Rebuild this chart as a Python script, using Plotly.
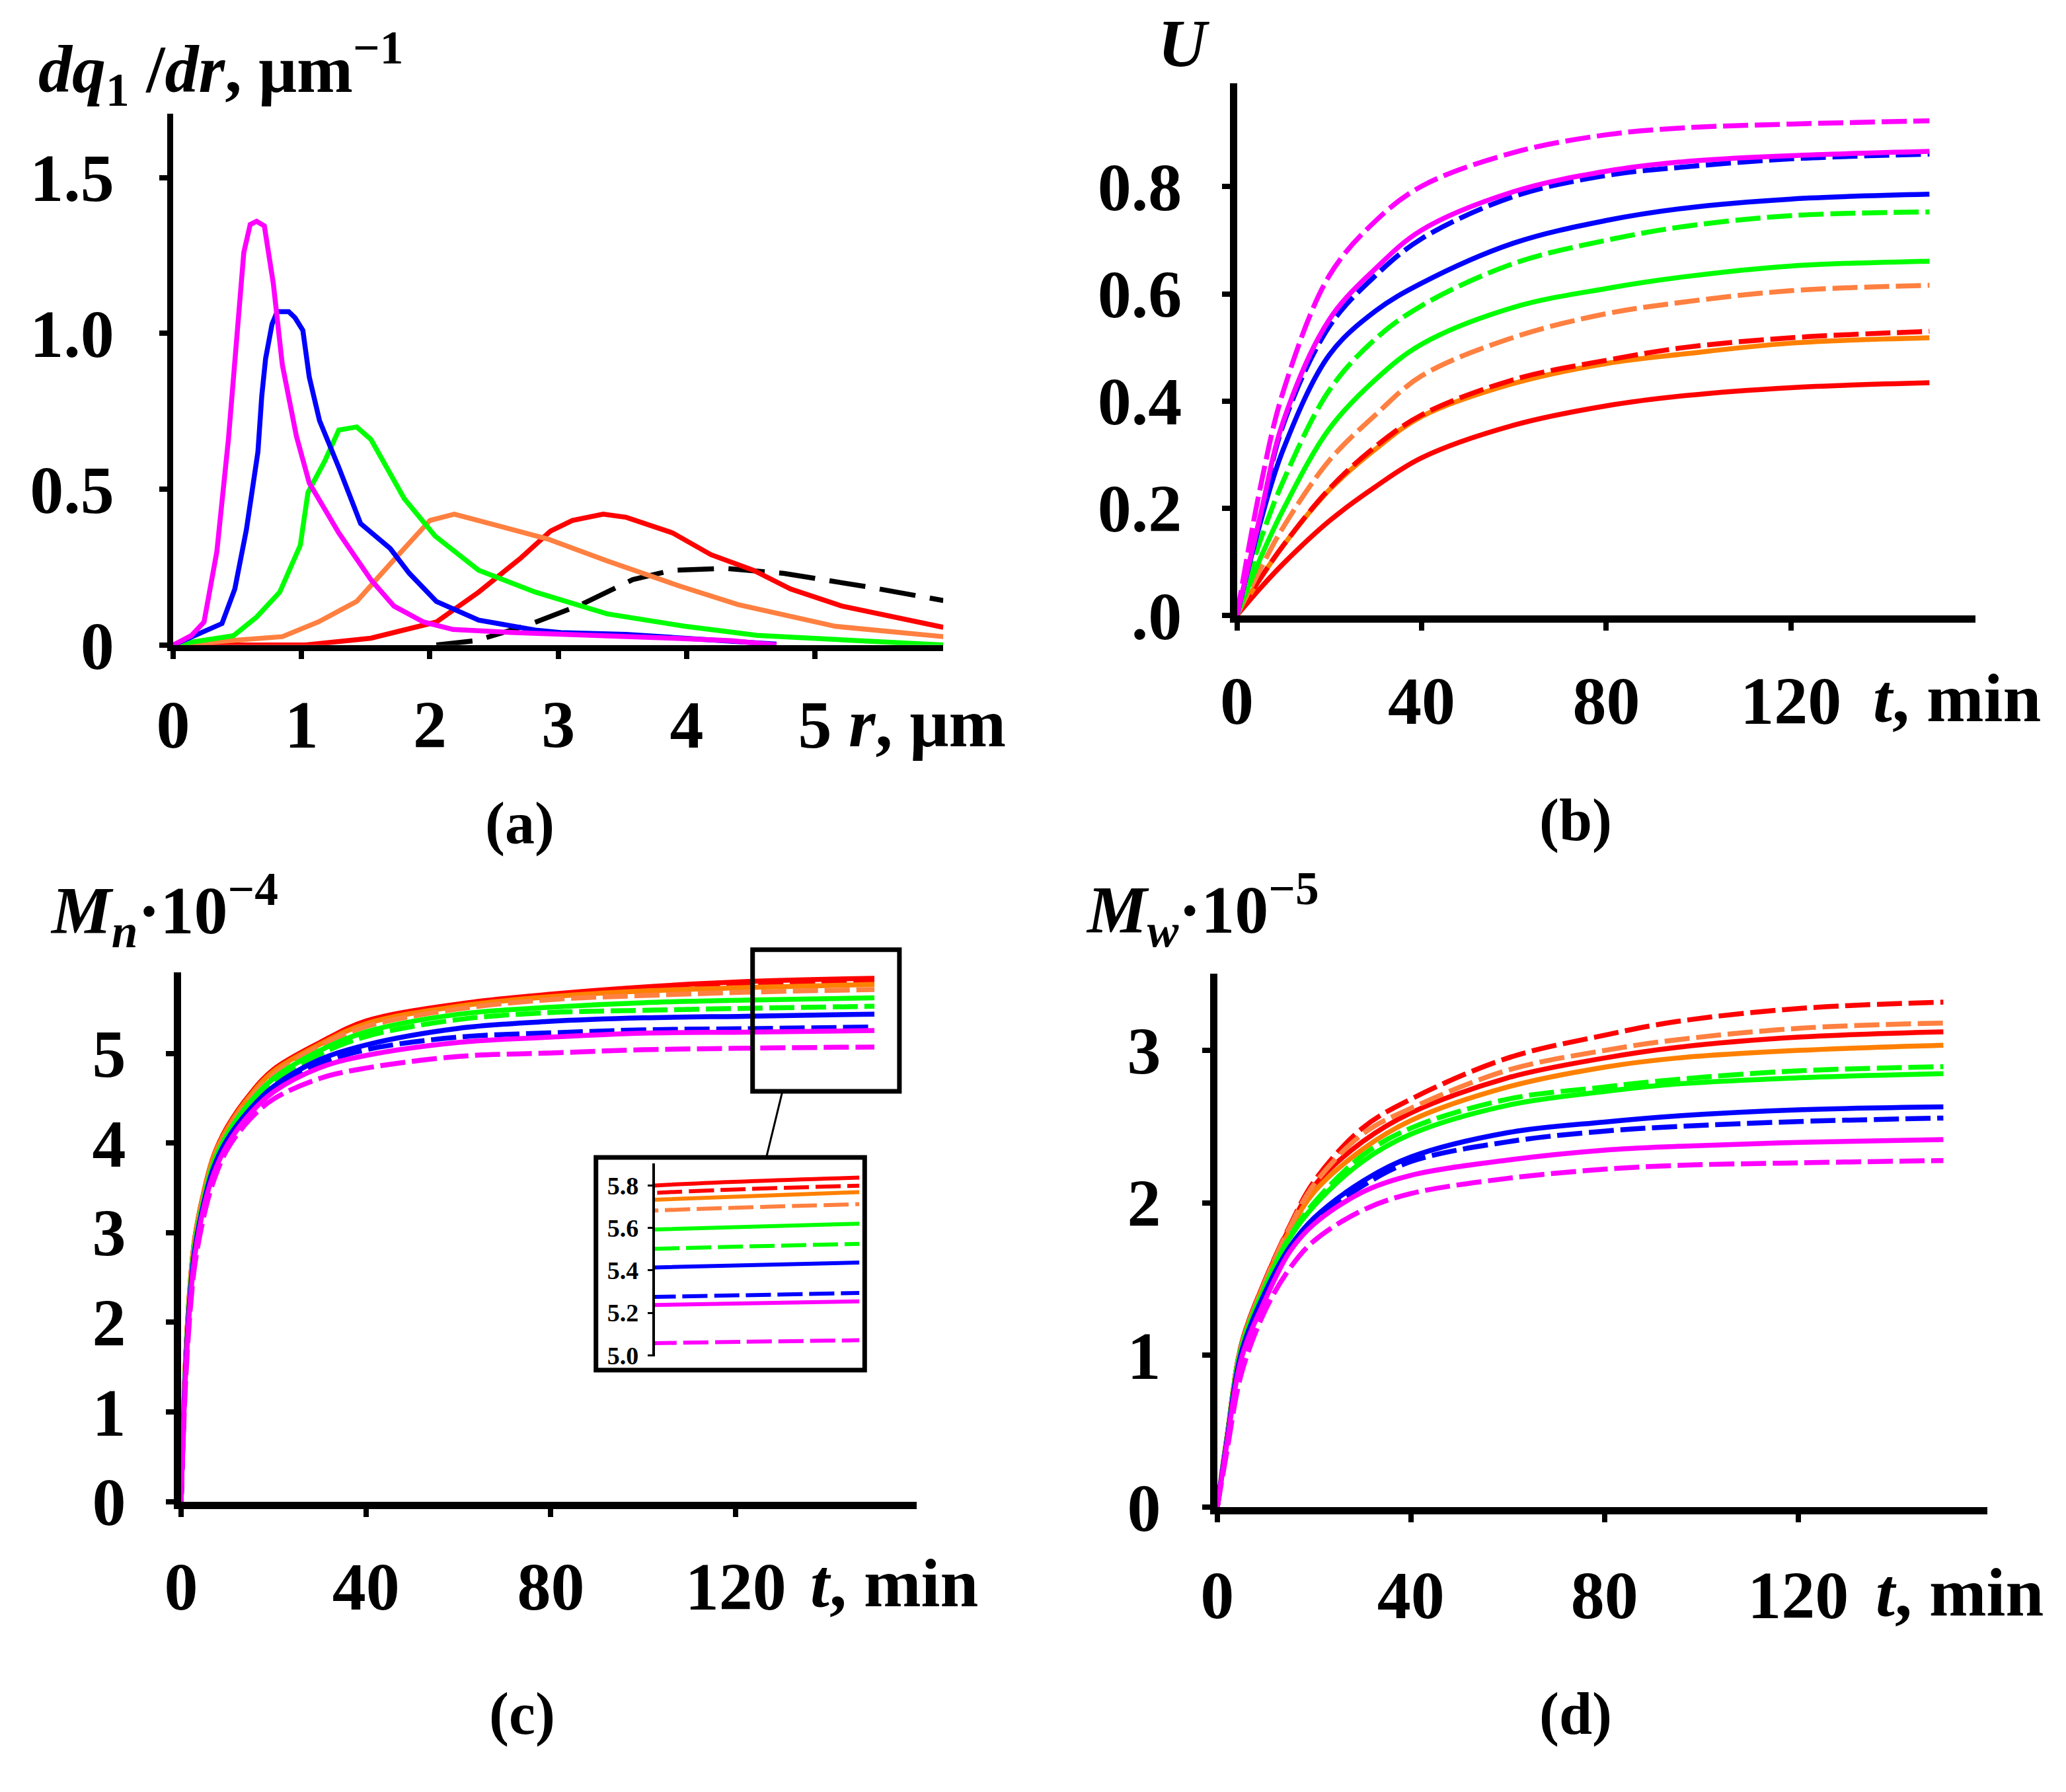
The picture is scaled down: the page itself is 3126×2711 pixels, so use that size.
import plotly.graph_objects as go

W, H = 3126, 2711
FONT = "Liberation Serif"
OFF = 8  # page body margin compensation

# ---------------- Panel (a): dq1/dr vs r ----------------
a_mag_r = [0, 0.14, 0.24, 0.34, 0.43, 0.55, 0.60, 0.65, 0.71, 0.78, 0.85, 0.96, 1.06, 1.29, 1.54, 1.72, 1.95, 2.18, 2.66, 3.38, 3.89, 4.35, 4.70]
a_mag_q = [0, 0.03, 0.074, 0.30, 0.66, 1.26, 1.35, 1.36, 1.345, 1.16, 0.90, 0.67, 0.52, 0.36, 0.21, 0.125, 0.074, 0.05, 0.04, 0.031, 0.022, 0.014, 0.0]
a_blue_r = [0, 0.38, 0.48, 0.57, 0.66, 0.69, 0.72, 0.77, 0.81, 0.90, 0.95, 1.01, 1.06, 1.14, 1.29, 1.46, 1.69, 1.84, 2.05, 2.38, 2.82, 3.02, 3.53, 3.99, 4.35, 4.70]
a_blue_q = [0, 0.069, 0.18, 0.37, 0.62, 0.80, 0.92, 1.03, 1.07, 1.07, 1.05, 1.01, 0.86, 0.72, 0.57, 0.39, 0.31, 0.23, 0.14, 0.08, 0.048, 0.04, 0.034, 0.022, 0.012, 0.003]
a_green_r = [0, 0.47, 0.65, 0.83, 0.99, 1.05, 1.18, 1.29, 1.43, 1.54, 1.80, 2.04, 2.38, 2.82, 3.38, 3.99, 4.55, 5.16, 6.0]
a_green_q = [0, 0.03, 0.09, 0.17, 0.32, 0.49, 0.59, 0.69, 0.70, 0.66, 0.47, 0.35, 0.24, 0.17, 0.10, 0.06, 0.031, 0.019, 0.0]
a_orange_r = [0, 0.85, 1.13, 1.43, 1.69, 2.0, 2.19, 2.46, 2.92, 3.38, 3.94, 4.40, 5.16, 6.0]
a_orange_q = [0, 0.027, 0.074, 0.14, 0.26, 0.40, 0.42, 0.39, 0.34, 0.27, 0.19, 0.13, 0.06, 0.027]
a_red_r = [0, 1.03, 1.54, 2.05, 2.38, 2.71, 2.94, 3.11, 3.35, 3.53, 3.89, 4.19, 4.52, 4.81, 5.21, 6.0]
a_red_q = [0, 0, 0.022, 0.074, 0.17, 0.28, 0.366, 0.40, 0.42, 0.41, 0.36, 0.29, 0.24, 0.18, 0.125, 0.057]
a_black_r = [2.05, 2.36, 2.77, 3.18, 3.58, 3.89, 4.30, 4.76, 5.42, 6.0]
a_black_q = [0, 0.014, 0.065, 0.13, 0.21, 0.24, 0.246, 0.23, 0.186, 0.143]

# ---------------- Panel (b): U vs t ----------------
t_b = [0, 5, 10, 20, 30, 40, 60, 80, 97, 120, 150]
b_mag_d = [0, 0.236, 0.417, 0.634, 0.736, 0.801, 0.864, 0.897, 0.910, 0.917, 0.923]
b_mag = [0, 0.184, 0.361, 0.552, 0.647, 0.719, 0.791, 0.829, 0.847, 0.858, 0.866]
b_blue_d = [0, 0.180, 0.355, 0.539, 0.634, 0.703, 0.782, 0.821, 0.837, 0.852, 0.861]
b_blue = [0, 0.171, 0.309, 0.486, 0.568, 0.620, 0.695, 0.737, 0.760, 0.777, 0.786]
b_green_d = [0, 0.138, 0.250, 0.420, 0.516, 0.578, 0.657, 0.700, 0.726, 0.746, 0.753]
b_green = [0, 0.105, 0.197, 0.348, 0.440, 0.506, 0.575, 0.610, 0.632, 0.652, 0.661]
b_orange_d = [0, 0.085, 0.164, 0.289, 0.374, 0.447, 0.519, 0.563, 0.585, 0.606, 0.616]
b_red_d = [0, 0.068, 0.130, 0.236, 0.315, 0.374, 0.440, 0.476, 0.500, 0.518, 0.530]
b_orange = [0, 0.068, 0.130, 0.234, 0.310, 0.371, 0.433, 0.470, 0.488, 0.508, 0.518]
b_red = [0, 0.050, 0.096, 0.176, 0.240, 0.294, 0.355, 0.391, 0.410, 0.425, 0.434]

# ---------------- Panel (c): Mn*1e-4 vs t ----------------
t_c = [0, 1, 2, 3, 5, 7, 10, 15, 20, 30, 40, 60, 80, 100, 122, 150]
c_red = [0, 1.60, 2.45, 2.95, 3.47, 3.85, 4.18, 4.55, 4.82, 5.12, 5.36, 5.55, 5.66, 5.74, 5.800, 5.837]
c_red_d = [0, 1.58, 2.42, 2.93, 3.45, 3.83, 4.15, 4.52, 4.79, 5.10, 5.34, 5.535, 5.64, 5.71, 5.765, 5.799]
c_orange = [0, 1.60, 2.44, 2.94, 3.46, 3.84, 4.16, 4.53, 4.80, 5.10, 5.33, 5.526, 5.632, 5.695, 5.733, 5.769]
c_orange_d = [0, 1.55, 2.40, 2.90, 3.43, 3.80, 4.13, 4.50, 4.76, 5.08, 5.298, 5.495, 5.600, 5.645, 5.682, 5.712]
c_green = [0, 1.55, 2.38, 2.88, 3.40, 3.78, 4.10, 4.46, 4.72, 5.03, 5.239, 5.436, 5.514, 5.565, 5.593, 5.620]
c_green_d = [0, 1.52, 2.35, 2.86, 3.38, 3.75, 4.07, 4.43, 4.69, 4.99, 5.188, 5.377, 5.455, 5.480, 5.502, 5.525]
c_blue = [0, 1.50, 2.32, 2.82, 3.35, 3.72, 4.04, 4.38, 4.63, 4.93, 5.094, 5.279, 5.357, 5.396, 5.414, 5.437]
c_blue_d = [0, 1.48, 2.30, 2.80, 3.33, 3.70, 4.01, 4.35, 4.59, 4.88, 5.040, 5.181, 5.228, 5.262, 5.275, 5.294]
c_mag = [0, 1.45, 2.25, 2.75, 3.30, 3.65, 3.98, 4.33, 4.57, 4.84, 4.976, 5.122, 5.181, 5.225, 5.237, 5.254]
c_mag_d = [0, 1.35, 2.15, 2.65, 3.20, 3.57, 3.93, 4.27, 4.49, 4.72, 4.835, 4.965, 5.004, 5.040, 5.057, 5.071]

# ---------------- Panel (d): Mw*1e-5 vs t ----------------
t_d = [0, 2, 5, 10, 15, 20, 30, 40, 60, 80, 95, 120, 150]
d_red = [0, 0.46, 1.07, 1.50, 1.84, 2.11, 2.40, 2.59, 2.82, 2.95, 3.02, 3.087, 3.122]
d_red_d = [0, 0.46, 1.07, 1.50, 1.85, 2.14, 2.49, 2.68, 2.95, 3.10, 3.19, 3.275, 3.317]
d_orange = [0, 0.46, 1.06, 1.49, 1.82, 2.07, 2.35, 2.54, 2.76, 2.89, 2.95, 3.000, 3.034]
d_orange_d = [0, 0.46, 1.06, 1.49, 1.84, 2.12, 2.45, 2.62, 2.87, 3.00, 3.07, 3.145, 3.180]
d_green = [0, 0.45, 1.05, 1.46, 1.77, 1.98, 2.27, 2.45, 2.64, 2.73, 2.78, 2.820, 2.847]
d_green_d = [0, 0.45, 1.05, 1.46, 1.78, 2.00, 2.31, 2.49, 2.68, 2.76, 2.81, 2.866, 2.893]
d_blue = [0, 0.44, 1.02, 1.42, 1.71, 1.90, 2.14, 2.30, 2.46, 2.53, 2.57, 2.610, 2.629]
d_blue_d = [0, 0.43, 1.00, 1.40, 1.69, 1.88, 2.11, 2.27, 2.40, 2.47, 2.50, 2.533, 2.556]
d_mag = [0, 0.42, 0.98, 1.37, 1.68, 1.86, 2.07, 2.18, 2.28, 2.345, 2.37, 2.396, 2.415]
d_mag_d = [0, 0.37, 0.88, 1.30, 1.57, 1.75, 1.95, 2.06, 2.16, 2.22, 2.245, 2.262, 2.277]

# tick labels
a_xticks = [0, 1, 2, 3, 4, 5]
a_yticks = [0, 0.5, 1.0, 1.5]
a_yticktext = ["0", "0.5", "1.0", "1.5"]
t_ticks = [0, 40, 80, 120]
b_yticks = [0, 0.2, 0.4, 0.6, 0.8]
b_yticktext = [".0", "0.2", "0.4", "0.6", "0.8"]
c_yticks = [0, 1, 2, 3, 4, 5]
d_yticks = [0, 1, 2, 3]
inset_yticks = [5.0, 5.2, 5.4, 5.6, 5.8]
inset_yticktext = ["5.0", "5.2", "5.4", "5.6", "5.8"]

RED = "#FF0000"
ORANGE = "#FF8000"
CORAL = "#FF8040"
GREEN = "#00FF00"
BLUE = "#0000FF"
MAG = "#FF00FF"
DASH = "38px,10px"
LW = 7.5


def fx(px):
    return (px - OFF) / W


def fy(py):
    return 1 - (py - OFF) / H


fig = go.Figure()


def add_line(x, y, color, ax, dash=None, width=LW, shape="spline"):
    xa = "x" if ax == 1 else f"x{ax}"
    ya = "y" if ax == 1 else f"y{ax}"
    line = dict(color=color, width=width, dash=dash or "solid", shape=shape)
    if shape == "spline":
        line["smoothing"] = 1.0
    fig.add_trace(go.Scatter(x=x, y=y, mode="lines", xaxis=xa, yaxis=ya,
                             showlegend=False, line=line, hoverinfo="skip"))


# panel (a)
add_line(a_black_r, a_black_q, "#000000", 1, dash="55px,22px", shape="linear")
add_line(a_red_r, a_red_q, RED, 1, shape="linear")
add_line(a_orange_r, a_orange_q, CORAL, 1, shape="linear")
add_line(a_green_r, a_green_q, GREEN, 1, shape="linear")
add_line(a_blue_r, a_blue_q, BLUE, 1, shape="linear")
add_line(a_mag_r, a_mag_q, MAG, 1, shape="linear")

series_b = [(b_red, RED, None), (b_orange, ORANGE, None), (b_red_d, RED, DASH),
            (b_orange_d, CORAL, DASH), (b_green, GREEN, None), (b_green_d, GREEN, DASH),
            (b_blue, BLUE, None), (b_blue_d, BLUE, DASH), (b_mag, MAG, None), (b_mag_d, MAG, DASH)]
for y, c, d in series_b:
    add_line(t_b, y, c, 2, dash=d)

series_c = [(c_red, RED, None), (c_red_d, RED, DASH), (c_orange, ORANGE, None),
            (c_orange_d, CORAL, DASH), (c_green, GREEN, None), (c_green_d, GREEN, DASH),
            (c_blue, BLUE, None), (c_blue_d, BLUE, DASH), (c_mag, MAG, None), (c_mag_d, MAG, DASH)]
for y, c, d in series_c:
    add_line(t_c, y, c, 3, dash=d)
for y, c, d in series_c:
    add_line(t_c, y, c, 5, dash=d, width=6)

series_d = [(d_red, RED, None), (d_red_d, RED, DASH), (d_orange, ORANGE, None),
            (d_orange_d, CORAL, DASH), (d_green, GREEN, None), (d_green_d, GREEN, DASH),
            (d_blue, BLUE, None), (d_blue_d, BLUE, DASH), (d_mag, MAG, None), (d_mag_d, MAG, DASH)]
for y, c, d in series_d:
    add_line(t_d, y, c, 4, dash=d)

tickfont = dict(family=FONT, size=102, color="black", weight="bold")


def xaxis(px0, px1, rng, tickvals, lw=11, standoff=20):
    return dict(domain=[fx(px0), fx(px1)], range=rng, showline=True, linewidth=lw,
                linecolor="black", ticks="outside", ticklen=12, tickwidth=8,
                tickcolor="black", tickvals=tickvals, tickfont=tickfont,
                showgrid=False, zeroline=False, ticklabelstandoff=standoff, fixedrange=True)


def yaxis(py_bottom, py_top, rng, tickvals, ticktext=None, lw=11, standoff=40):
    d = dict(domain=[fy(py_bottom), fy(py_top)], range=rng, showline=True, linewidth=lw,
             linecolor="black", ticks="outside", ticklen=12, tickwidth=8,
             tickcolor="black", tickvals=tickvals, tickfont=tickfont,
             showgrid=False, zeroline=False, ticklabelstandoff=standoff, fixedrange=True)
    if ticktext is not None:
        d["ticktext"] = ticktext
    return d


layout = dict(
    width=W, height=H, margin=dict(l=0, r=0, t=0, b=0),
    paper_bgcolor="white", plot_bgcolor="rgba(0,0,0,0)", showlegend=False,
    xaxis=dict(xaxis(238, 1413, [0, 6], a_xticks, lw=9, standoff=12), anchor="y"),
    yaxis=dict(yaxis(997, 176, [0, 1.7045], a_yticks, a_yticktext, lw=9, standoff=48), anchor="x"),
    xaxis2=dict(xaxis(1861, 2988, [0, 160], t_ticks, standoff=19), anchor="y2"),
    yaxis2=dict(yaxis(951, 128.5, [0, 0.9932], b_yticks, b_yticktext, standoff=40), anchor="x2"),
    xaxis3=dict(xaxis(250, 1372, [0, 159.1], t_ticks, standoff=18), anchor="y3"),
    yaxis3=dict(yaxis(2321, 1502.5, [0, 5.907], c_yticks, standoff=40), anchor="x3"),
    xaxis4=dict(xaxis(1831, 3006, [0, 159.1], t_ticks, standoff=22), anchor="y4"),
    yaxis4=dict(yaxis(2330, 1505, [0, 3.504], d_yticks, standoff=42), anchor="x4"),
    xaxis5=dict(domain=[fx(973), fx(1285)], range=[122, 150], visible=False,
                anchor="y5", fixedrange=True),
    yaxis5=dict(domain=[fy(2097), fy(1798)], range=[4.994, 5.905], showline=True,
                linewidth=4, linecolor="black", ticks="outside", ticklen=7, tickwidth=3,
                tickcolor="black", tickvals=inset_yticks, ticktext=inset_yticktext,
                tickfont=dict(family=FONT, size=38, color="black", weight="bold"),
                showgrid=False, zeroline=False, anchor="x5", ticklabelstandoff=6,
                fixedrange=True),
)
fig.update_layout(**layout)

# shapes: zoom box, connector, inset frame
fig.add_shape(type="rect", xref="paper", yref="paper", x0=fx(1122), x1=fx(1346),
              y0=fy(1687), y1=fy(1468), line=dict(color="black", width=7), layer="above")
fig.add_shape(type="line", xref="paper", yref="paper", x0=fx(1167), y0=fy(1689),
              x1=fx(1143), y1=fy(1789), line=dict(color="black", width=3))
fig.add_shape(type="rect", xref="paper", yref="paper", x0=fx(883), x1=fx(1293),
              y0=fy(2118), y1=fy(1789), line=dict(color="black", width=7), layer="above")


def ann(text, px, py, size=102, xanchor="left", yanchor="middle"):
    fig.add_annotation(text=text, x=fx(px), y=fy(py), xref="paper", yref="paper",
                       showarrow=False, xanchor=xanchor, yanchor=yanchor,
                       font=dict(family=FONT, size=size, color="black", weight="bold"))


ann("<i>dq</i><sub>1</sub> /<i>dr</i>, μm<sup>−1</sup>", 30, 106)
ann("<i>U</i>", 1738, 67)
ann("<i>M</i><sub><i>n</i></sub>·10<sup>−4</sup>", 48, 1406)
ann("<i>M</i><sub><i>w</i></sub>·10<sup>−5</sup>", 1628, 1405)
ann("<i>r</i>, μm", 1266, 1117, size=104)
ann("<i>t</i>, min", 2829, 1078, size=104)
ann("<i>t</i>, min", 1208, 2447, size=104)
ann("<i>t</i>, min", 2834, 2461, size=104)
ann("(a)", 767, 1273, size=90, xanchor="center")
ann("(b)", 2378, 1268, size=90, xanchor="center")
ann("(c)", 770, 2650, size=90, xanchor="center")
ann("(d)", 2378, 2650, size=90, xanchor="center")

fig.write_html("out.html")
